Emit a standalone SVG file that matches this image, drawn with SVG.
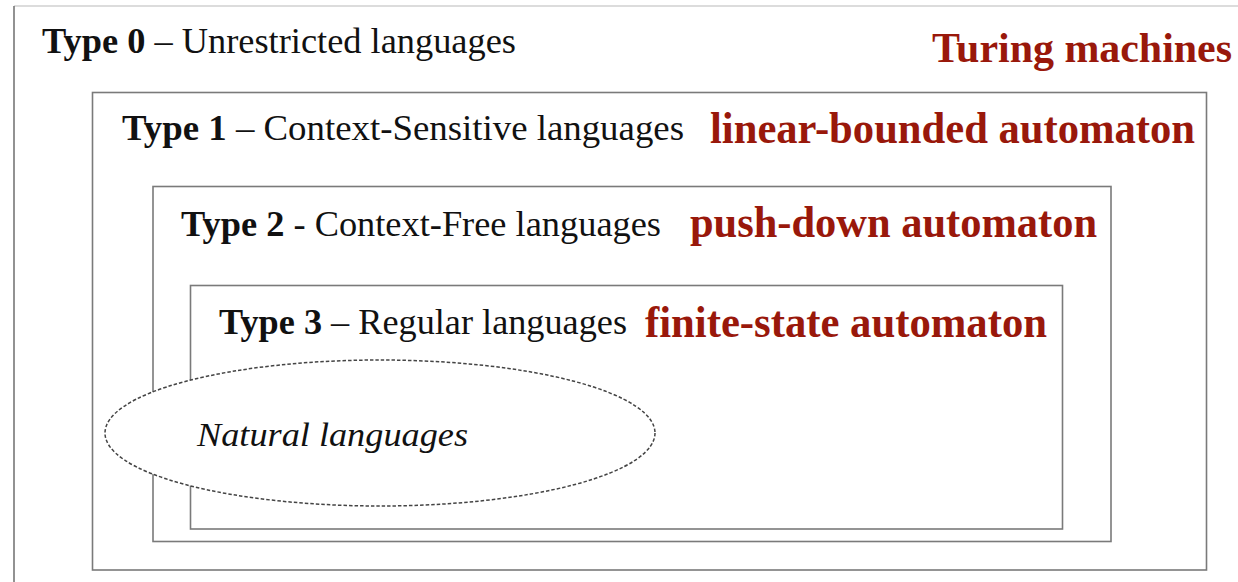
<svg xmlns="http://www.w3.org/2000/svg" width="1238" height="582" viewBox="0 0 1238 582">
<style>
.box{fill:none;stroke:#7a7a7a;stroke-width:1.6}
.lbl{font-family:"Liberation Serif","Times New Roman",serif;font-size:35px;fill:#111}
.b{font-weight:bold}
.red{font-family:"Liberation Serif","Times New Roman",serif;font-size:44px;font-weight:bold;fill:#99180b}
.nat{font-family:"Liberation Serif","Times New Roman",serif;font-size:34px;font-style:italic;fill:#111}
</style>
<rect width="1238" height="582" fill="#fff"/>
<g id="frame">
<line x1="14" y1="6" x2="1238" y2="6" stroke="#d0d0d0" stroke-width="1.5"/>
<line x1="14" y1="6" x2="14" y2="582" stroke="#777" stroke-width="1.6"/>
<text class="lbl" x="42" y="53" textLength="474" lengthAdjust="spacingAndGlyphs"><tspan class="b">Type 0</tspan> – Unrestricted languages</text>
<text class="red" x="932" y="62" style="font-size:41.5px" textLength="300" lengthAdjust="spacingAndGlyphs">Turing machines</text>
</g>
<g id="type1">
<rect class="box" x="92.5" y="92.5" width="1114" height="477.5"/>
<text class="lbl" x="122" y="140" textLength="562" lengthAdjust="spacingAndGlyphs"><tspan class="b">Type 1</tspan> – Context-Sensitive  languages</text>
<text class="red" x="710" y="143" textLength="485" lengthAdjust="spacingAndGlyphs">linear-bounded automaton</text>
</g>
<g id="type2">
<rect class="box" x="153" y="186.5" width="958" height="355"/>
<text class="lbl" x="181" y="236" textLength="480" lengthAdjust="spacingAndGlyphs"><tspan class="b">Type 2</tspan> - Context-Free languages</text>
<text class="red" x="690" y="237" textLength="407" lengthAdjust="spacingAndGlyphs">push-down automaton</text>
</g>
<g id="type3">
<rect class="box" x="190.5" y="285.5" width="872" height="243.5"/>
<text class="lbl" x="219" y="334" textLength="408" lengthAdjust="spacingAndGlyphs"><tspan class="b">Type 3</tspan> – Regular languages</text>
<text class="red" x="645" y="337" textLength="402" lengthAdjust="spacingAndGlyphs">finite-state automaton</text>
</g>
<g id="natural">
<ellipse cx="380" cy="433" rx="275" ry="73" fill="#fff" stroke="#444" stroke-width="1.5" stroke-dasharray="3.5 2"/>
<text class="nat" x="197" y="446" textLength="271" lengthAdjust="spacingAndGlyphs">Natural languages</text>
</g>
<g id="connectors"/>
</svg>
